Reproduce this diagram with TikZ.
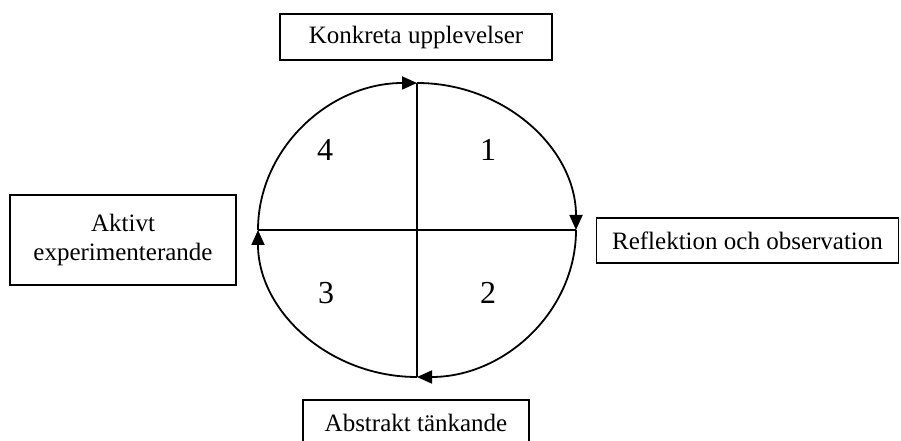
\documentclass[tikz,border=0pt]{standalone}
\usepackage{fontspec}
\setmainfont{Liberation Serif}
\usetikzlibrary{arrows.meta}
\begin{document}
\begin{tikzpicture}[x=1pt,y=1pt,
  lbox/.style={draw,line width=1.6pt,inner sep=0pt,font=\fontsize{25}{28.5}\selectfont,align=center},
  ln/.style={line width=1.8pt},
  arr/.style={line width=1.8pt,-{Triangle[length=15pt,width=13pt]}},
  num/.style={font=\fontsize{32}{36}\selectfont}]
\useasboundingbox (0,0) rectangle (901,441);
% boxes
\node[lbox,minimum width=272pt,minimum height=46pt] (top) at (416,404) {Konkreta upplevelser};
\node[lbox,minimum width=302pt,minimum height=45pt] (right) at (747.5,200.5) {Reflektion och observation};
\node[lbox,minimum width=226pt,minimum height=90pt] (left) at (123,201) {Aktivt\\experimenterande};
\node[lbox,minimum width=226pt,minimum height=46pt] (bottom) at (416,18) {Abstrakt tänkande};
% circle points
\coordinate (C) at (417,211);
\coordinate (T) at (417,358);
\coordinate (B) at (417,64);
\coordinate (L) at (258,211);
\coordinate (R) at (576,211);
% cross
\draw[ln] (T) -- (B);
\draw[ln] (L) -- (R);
% arcs clockwise
\draw[arr] (L) arc[start angle=180,end angle=90,x radius=159pt,y radius=147pt];
\draw[arr] (T) arc[start angle=90,end angle=0,x radius=159pt,y radius=147pt];
\draw[arr] (R) arc[start angle=360,end angle=270,x radius=159pt,y radius=147pt];
\draw[arr] (B) arc[start angle=270,end angle=180,x radius=159pt,y radius=147pt];
% numbers
\node[num] (n4) at (325,291) {4};
\node[num] (n1) at (488,291) {1};
\node[num] (n3) at (326,148) {3};
\node[num] (n2) at (488,148) {2};
\end{tikzpicture}
\end{document}
